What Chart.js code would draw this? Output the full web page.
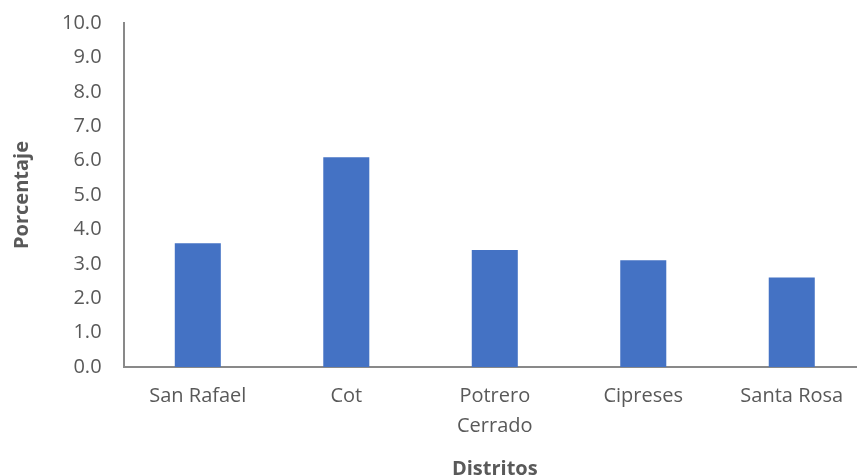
<!DOCTYPE html>
<html>
<head>
<meta charset="utf-8">
<script src="https://cdn.jsdelivr.net/npm/chart.js@4"></script>
<style>
  html, body { margin: 0; padding: 0; overflow: hidden; background: #fff; }
  #wrap { width: 866px; height: 492px; margin-top: -11px; }
</style>
</head>
<body>
<div id="wrap"><canvas id="barChart" width="866" height="492"></canvas></div>
<script>
const distritos = [['San Rafael'], ['Cot'], ['Potrero', 'Cerrado'], ['Cipreses'], ['Santa Rosa']];
const porcentaje = [3.6, 6.1, 3.4, 3.1, 2.6];

const ctx = document.getElementById('barChart').getContext('2d');
const barChart = new Chart(ctx, {
    type: 'bar',
    data: {
        labels: distritos,
        datasets: [{
            label: 'Porcentaje',
            data: porcentaje,
            backgroundColor: '#4472C4',
            borderWidth: 0,
            barPercentage: 0.31,
            categoryPercentage: 1
        }]
    },
    options: {
        responsive: false,
        animation: false,
        layout: { padding: { top: 0, right: 0, bottom: 0, left: 10 } },
        plugins: {
            legend: { display: false },
            tooltip: { enabled: false }
        },
        scales: {
            x: {
                grid: { display: false, drawTicks: false },
                border: { color: '#898989', width: 2 },
                ticks: {
                    color: '#595959',
                    font: { family: 'Open Sans', size: 20, lineHeight: 1.5 },
                    padding: 14,
                    maxRotation: 0
                },
                title: {
                    display: true,
                    text: 'Distritos',
                    color: '#595959',
                    font: { family: 'Open Sans', size: 20, weight: 'bold' },
                    padding: { top: 2, bottom: 0 }
                }
            },
            y: {
                min: 0,
                max: 10,
                grid: { display: false, drawTicks: false },
                border: { color: '#898989', width: 2 },
                ticks: {
                    stepSize: 1,
                    color: '#595959',
                    font: { family: 'Open Sans', size: 20 },
                    padding: 22,
                    callback: v => v.toFixed(1)
                },
                title: {
                    display: true,
                    text: 'Porcentaje',
                    color: '#595959',
                    font: { family: 'Open Sans', size: 20, weight: 'bold' },
                    padding: { top: 0, bottom: 6 }
                }
            }
        }
    }
});
</script>
</body>
</html>
